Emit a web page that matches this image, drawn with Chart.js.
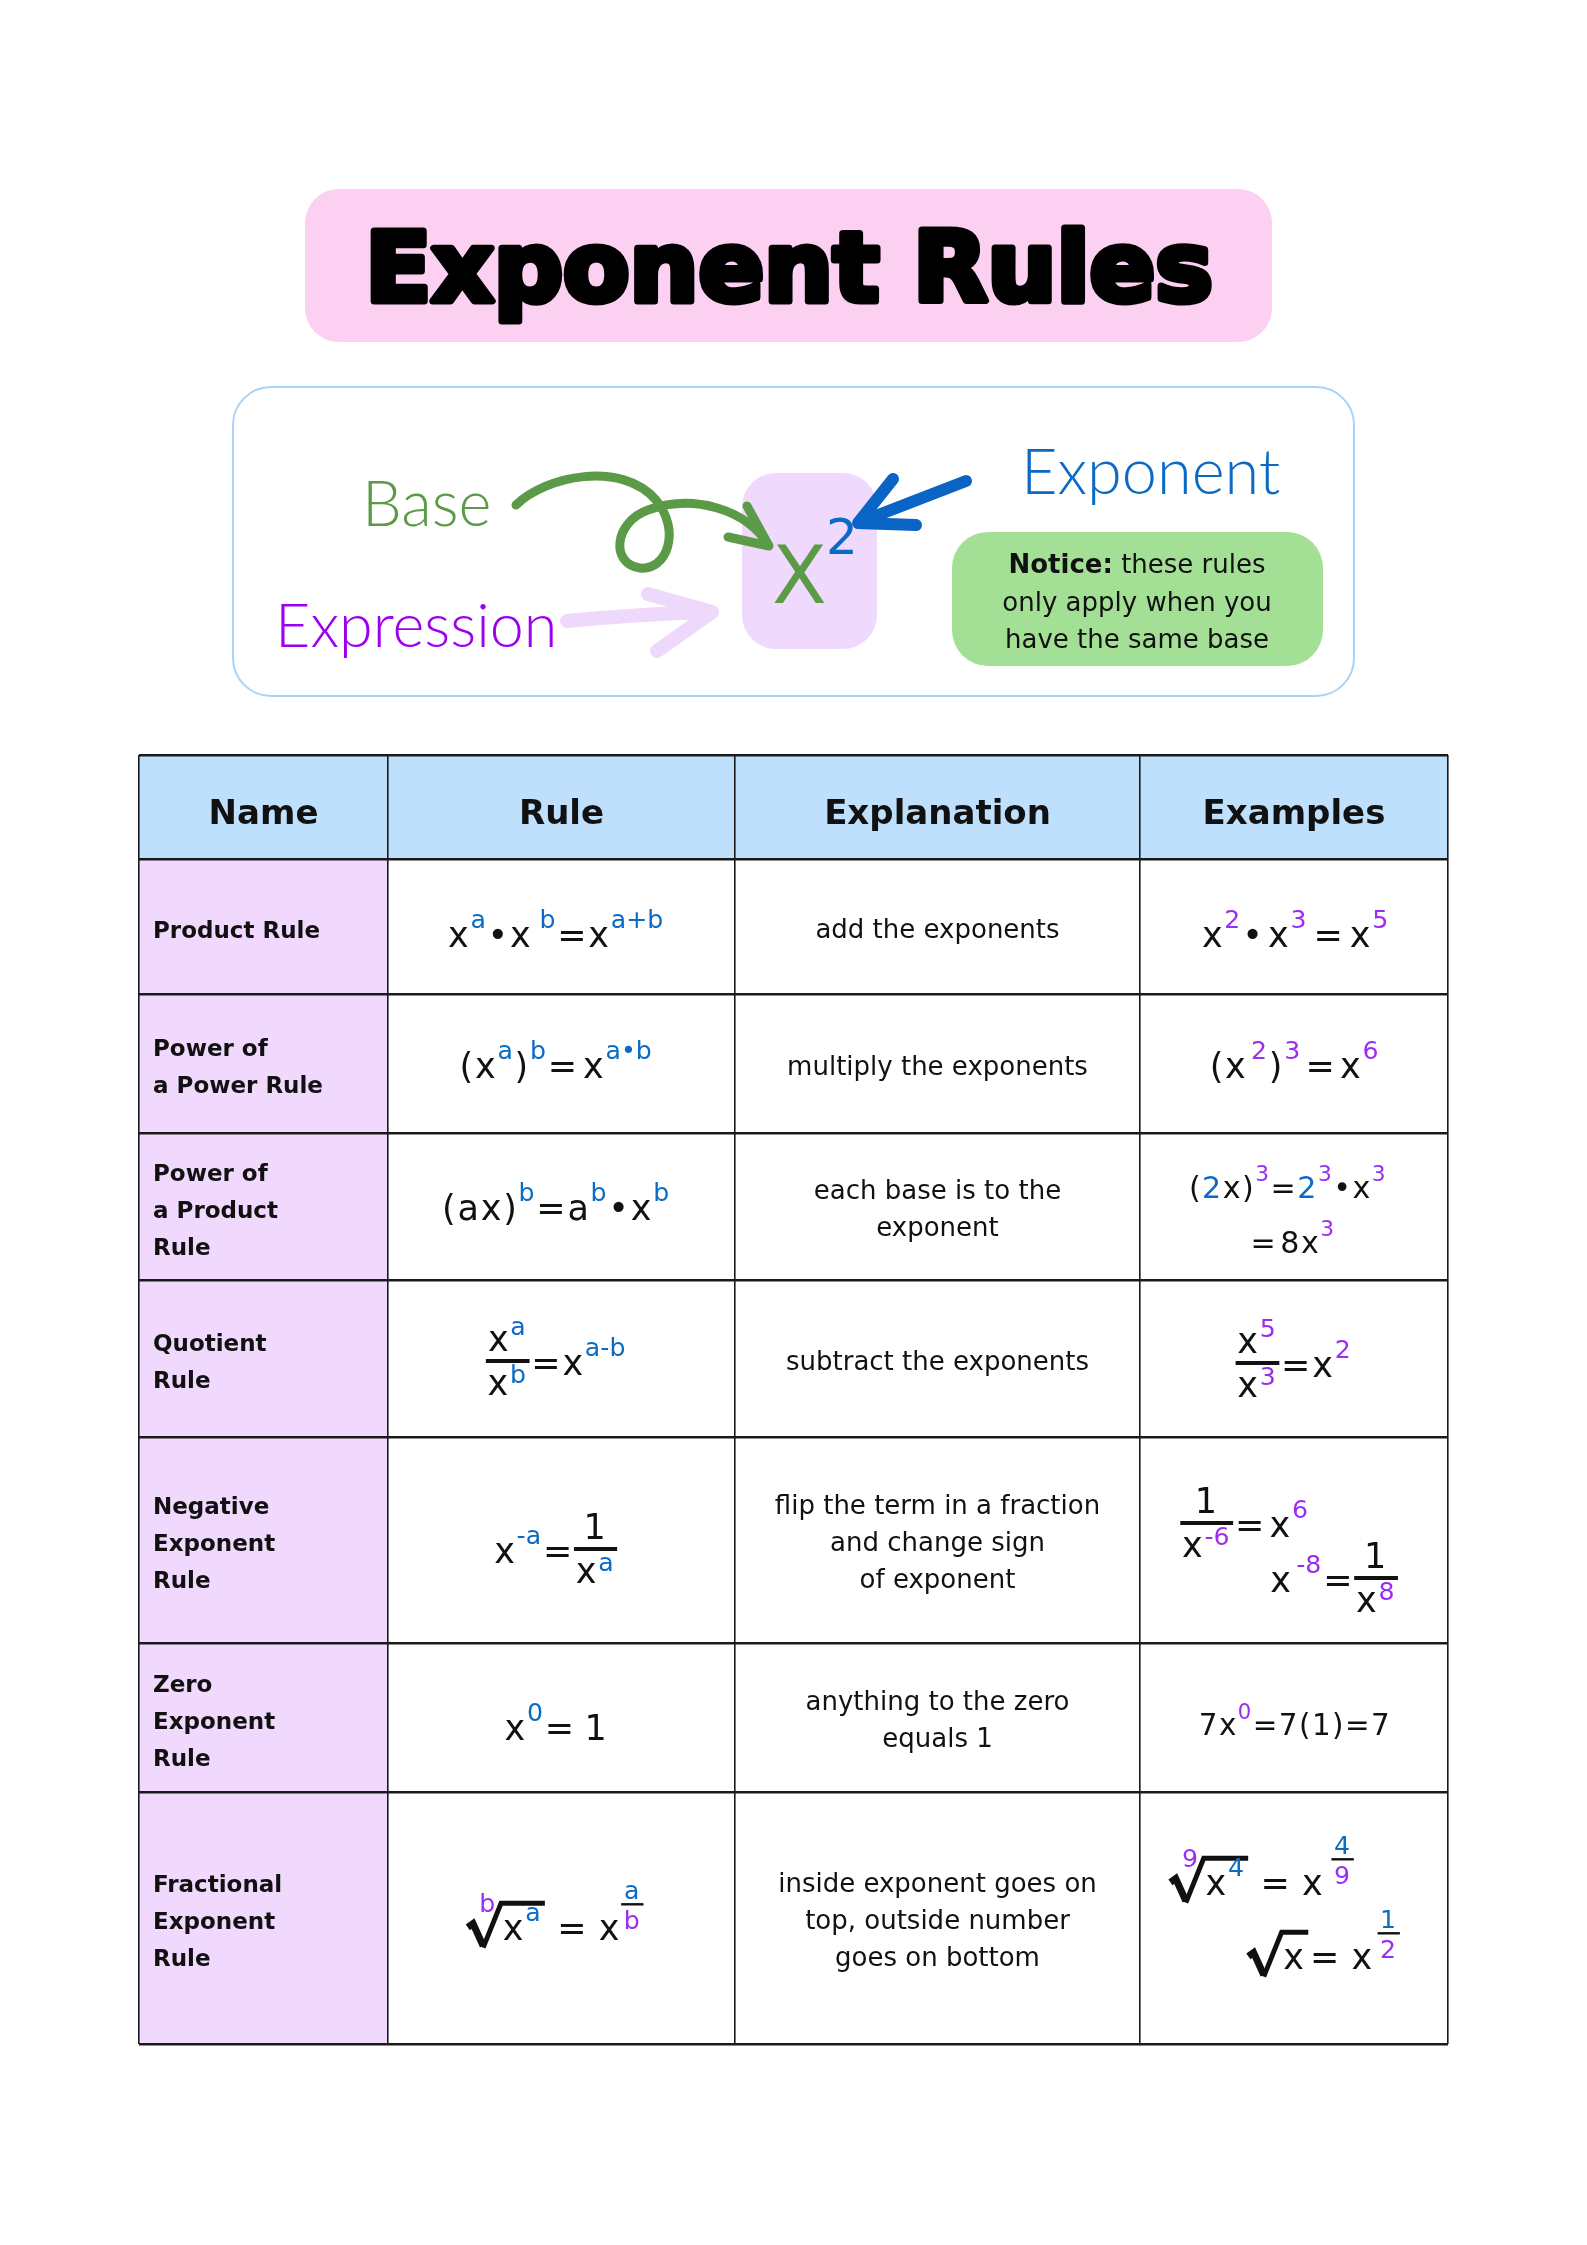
<!DOCTYPE html>
<html>
<head>
<meta charset="utf-8">
<script src="https://cdn.jsdelivr.net/npm/chart.js@4.4.1/dist/chart.umd.min.js"></script>
<style>
  html, body { margin: 0; padding: 0; background: #fff; }
  canvas { display: block; }
</style>
</head>
<body>
<canvas id="poster" width="1587" height="2245"></canvas>
<script>
const BLUE = '#0b6ac4';
const PURPLE = '#9b2cf2';
const INK = '#111111';

// little token helpers for the maths
const t = (s, c) => ({ k: 't', s, c });
const sup = (s, c) => ({ k: 'sup', s, c });
const gap = (w) => ({ k: 'gap', w });
const frac = (n, d) => ({ k: 'frac', n, d });
const sfrac = (n, d) => ({ k: 'sfrac', n, d });
const root = (i, b) => ({ k: 'root', i, b });

const headers = ['Name', 'Rule', 'Explanation', 'Examples'];

const names = [
  ['Product Rule'],
  ['Power of', 'a Power Rule'],
  ['Power of', 'a Product', 'Rule'],
  ['Quotient', 'Rule'],
  ['Negative', 'Exponent', 'Rule'],
  ['Zero', 'Exponent', 'Rule'],
  ['Fractional', 'Exponent', 'Rule']
];

const explanations = [
  ['add the exponents'],
  ['multiply the exponents'],
  ['each base is to the', 'exponent'],
  ['subtract the exponents'],
  ['flip the term in a fraction', 'and change sign', 'of exponent'],
  ['anything to the zero', 'equals 1'],
  ['inside exponent goes on', 'top, outside number', 'goes on bottom']
];

const rules = [
  [t('x'), sup('a', BLUE), t('•'), t('x'), gap(0.2), sup('b', BLUE), t('='), t('x'), sup('a+b', BLUE)],
  [t('('), t('x'), sup('a', BLUE), t(')'), sup('b', BLUE), t('='), gap(0.12), t('x'), sup('a•b', BLUE)],
  [t('('), t('a'), t('x'), t(')'), sup('b', BLUE), t('='), t('a'), sup('b', BLUE), t('•'), t('x'), sup('b', BLUE)],
  [frac([t('x'), sup('a', BLUE)], [t('x'), sup('b', BLUE)]), t('='), t('x'), sup('a-b', BLUE)],
  [t('x'), sup('-a', BLUE), t('='), frac([t('1')], [t('x'), sup('a', BLUE)])],
  [t('x'), sup('0', BLUE), t('='), gap(0.25), t('1')],
  [root([t('b', PURPLE)], [t('x'), sup('a', BLUE)]), gap(0.3), t('='), gap(0.3), t('x'), sfrac([t('a', BLUE)], [t('b', PURPLE)])]
];

const examples = [
  [[t('x'), sup('2', PURPLE), t('•'), gap(0.1), t('x'), sup('3', PURPLE), gap(0.15), t('='), gap(0.15), t('x'), sup('5', PURPLE)]],
  [[t('('), t('x'), gap(0.1), sup('2', PURPLE), t(')'), sup('3', PURPLE), gap(0.1), t('='), gap(0.1), t('x'), sup('6', PURPLE)]],
  [[t('('), t('2', BLUE), t('x'), t(')'), sup('3', PURPLE), t('='), t('2', BLUE), sup('3', PURPLE), t('•'), t('x'), sup('3', PURPLE)],
   [t('='), gap(0.1), t('8'), t('x'), sup('3', PURPLE)]],
  [[frac([t('x'), sup('5', PURPLE)], [t('x'), sup('3', PURPLE)]), t('='), t('x'), sup('2', PURPLE)]],
  [[frac([t('1')], [t('x'), sup('-6', PURPLE)]), t('='), gap(0.1), t('x'), sup('6', PURPLE)],
   [t('x'), gap(0.1), sup('-8', PURPLE), t('='), frac([t('1')], [t('x'), sup('8', PURPLE)])]],
  [[t('7'), t('x'), sup('0', PURPLE), t('='), t('7'), t('('), t('1'), t(')'), t('='), t('7')]],
  [[root([t('9', PURPLE)], [t('x'), sup('4', BLUE)]), gap(0.3), t('='), gap(0.3), t('x'), gap(0.2), sfrac([t('4', BLUE)], [t('9', PURPLE)])],
   [root([], [t('x')]), t('='), gap(0.3), t('x'), gap(0.1), sfrac([t('1', BLUE)], [t('2', PURPLE)])]]
];

// table geometry (scale units), and where things sit inside the cells
const colEdges = [0, 249, 596, 1001, 1309];
const rowEdges = [0, 104, 239, 378, 525, 682, 888, 1037, 1289];
const TABLE = { left: 139, top: 755, right: 1448, bottom: 2044 };
const ruleDy = [20.5, 14.5, 13.5, 16.5, 23, 22.5, 22];
// [dx, dy, size factor] for each example line
const exampleOffsets = [
  [[2, 20.5, 1]], [[1, 14.5, 1]], [[-6, -8.5, 0.86], [-1, 46.5, 0.86]], [[0, 18.5, 1]],
  [[-49, -3, 1], [41, 52, 1]], [[1, 17.5, 0.84]], [[-31, -23, 1], [31, 51, 1]]
];

const MF = '"DejaVu Sans", sans-serif';
const MATH = 35;
const SUP = 0.72;

function put(ctx, s, x, base, size, color, dry) {
  ctx.font = size + 'px ' + MF;
  if (!dry) { ctx.fillStyle = color || INK; ctx.fillText(s, x, base); }
  return ctx.measureText(s).width;
}

function run(ctx, toks, x, base, size, dry, lift = 0.55) {
  let w = 0;
  toks.forEach(tk => { w += piece(ctx, tk, x + w, base, size, dry, lift); });
  return w;
}

function piece(ctx, tk, x, base, size, dry, lift) {
  const ss = size * SUP, pad = 0.05 * size;
  if (tk.k === 't') return put(ctx, tk.s, x, base, size, tk.c, dry) + pad;
  if (tk.k === 'gap') return tk.w * size;
  if (tk.k === 'sup') return put(ctx, tk.s, x, base - lift * size, ss, tk.c, dry) + pad;
  if (tk.k === 'frac') {
    const nw = run(ctx, tk.n, 0, 0, size, true), dw = run(ctx, tk.d, 0, 0, size, true);
    const w = Math.max(nw, dw) + 0.1 * size, bar = base - 0.4 * size;
    if (!dry) {
      ctx.fillStyle = INK;
      ctx.fillRect(x, bar - 2, w, 4);
      run(ctx, tk.n, x + (w - nw) / 2, bar - 0.3 * size, size, false, 0.45);
      run(ctx, tk.d, x + (w - dw) / 2, bar + 0.97 * size, size, false, 0.33);
    }
    return w + pad;
  }
  if (tk.k === 'sfrac') {
    const nw = run(ctx, tk.n, 0, 0, ss, true), dw = run(ctx, tk.d, 0, 0, ss, true);
    const w = Math.max(nw, dw) + 0.2 * ss, bar = base - 1.02 * size;
    if (!dry) {
      ctx.fillStyle = INK;
      ctx.fillRect(x, bar - 1.2, w, 2.4);
      run(ctx, tk.n, x + (w - nw) / 2, bar - 0.14 * size, ss);
      run(ctx, tk.d, x + (w - dw) / 2, bar + 0.7 * size, ss);
    }
    return w + pad;
  }
  if (tk.k === 'root') {
    const bw = run(ctx, tk.b, 0, 0, size, true);
    const rw = 0.95 * size, top = base - 1.05 * size, end = x + rw + bw + 0.12 * size;
    if (!dry) {
      if (tk.i.length) {
        const iw = run(ctx, tk.i, 0, 0, ss, true);
        run(ctx, tk.i, x + 0.82 * size - iw, base - 0.8 * size, ss);
      }
      ctx.strokeStyle = INK;
      ctx.lineJoin = 'miter';
      ctx.lineCap = 'butt';
      ctx.beginPath();
      ctx.moveTo(x, base - 0.36 * size);
      ctx.lineTo(x + 0.15 * size, base - 0.47 * size);
      ctx.lineTo(x + 0.44 * size, base + 0.17 * size);
      ctx.lineWidth = 0.2 * size;
      ctx.stroke();
      ctx.beginPath();
      ctx.moveTo(x + 0.44 * size, base + 0.22 * size);
      ctx.lineTo(x + rw, top);
      ctx.lineTo(end, top);
      ctx.lineWidth = 0.14 * size;
      ctx.stroke();
      run(ctx, tk.b, x + rw + 0.05 * size, base, size);
    }
    return end - x + pad;
  }
  return 0;
}

function mathCentered(ctx, toks, cx, base, size) {
  const w = run(ctx, toks, 0, 0, size, true);
  run(ctx, toks, cx - w / 2, base, size);
}

function rr(ctx, x, y, w, h, r) {
  ctx.beginPath();
  ctx.moveTo(x + r, y);
  ctx.arcTo(x + w, y, x + w, y + h, r);
  ctx.arcTo(x + w, y + h, x, y + h, r);
  ctx.arcTo(x, y + h, x, y, r);
  ctx.arcTo(x, y, x + w, y, r);
  ctx.closePath();
}

function drawTop(ctx) {
  // title plate
  rr(ctx, 305, 189, 967, 153, 34);
  ctx.fillStyle = '#fcd0f1';
  ctx.fill();
  let fs = 100;
  ctx.font = 'bold ' + fs + 'px "DejaVu Sans", sans-serif';
  fs = fs * 848 / ctx.measureText('Exponent Rules').width;
  ctx.font = 'bold ' + fs.toFixed(1) + 'px "DejaVu Sans", sans-serif';
  ctx.fillStyle = '#000';
  ctx.strokeStyle = '#000';
  ctx.lineWidth = 7;
  ctx.lineJoin = 'round';
  ctx.textAlign = 'center';
  ctx.textBaseline = 'alphabetic';
  ctx.fillText('Exponent Rules', 789, 301);
  ctx.strokeText('Exponent Rules', 789, 301);

  // diagram frame
  rr(ctx, 233, 387, 1121, 309, 38);
  ctx.strokeStyle = '#a9d3f7';
  ctx.lineWidth = 2;
  ctx.stroke();

  rr(ctx, 742, 473, 135, 176, 34);
  ctx.fillStyle = '#efd9fc';
  ctx.fill();

  // pale purple arrow
  ctx.lineCap = 'round';
  ctx.lineJoin = 'round';
  ctx.strokeStyle = '#eed8fb';
  ctx.lineWidth = 14;
  ctx.beginPath();
  ctx.moveTo(567, 621);
  ctx.quadraticCurveTo(640, 614, 710, 612);
  ctx.moveTo(648, 594);
  ctx.lineTo(712, 612);
  ctx.lineTo(657, 651);
  ctx.stroke();

  // green looping arrow
  ctx.strokeStyle = '#5b9a46';
  ctx.lineWidth = 9;
  ctx.beginPath();
  ctx.moveTo(516, 505);
  ctx.bezierCurveTo(545, 476, 622, 460, 656, 500);
  ctx.bezierCurveTo(682, 532, 666, 571, 640, 568);
  ctx.bezierCurveTo(610, 564, 614, 522, 648, 510);
  ctx.bezierCurveTo(692, 494, 746, 508, 769, 546);
  ctx.moveTo(747, 506);
  ctx.lineTo(769, 546);
  ctx.lineTo(728, 537);
  ctx.stroke();

  // blue arrow
  ctx.strokeStyle = '#0a64c5';
  ctx.lineWidth = 12;
  ctx.beginPath();
  ctx.moveTo(966, 481);
  ctx.lineTo(860, 522);
  ctx.moveTo(893, 479);
  ctx.lineTo(858, 523);
  ctx.lineTo(916, 525);
  ctx.stroke();

  // x squared
  ctx.textAlign = 'left';
  ctx.font = '80px ' + MF;
  ctx.fillStyle = '#5b9a46';
  ctx.fillText('X', 772, 603);
  ctx.font = '50px ' + MF;
  ctx.fillStyle = BLUE;
  ctx.fillText('2', 826, 554);

  // labels
  ctx.font = '300 63px Lato, sans-serif';
  ctx.fillStyle = '#5b9a46';
  ctx.fillText('Base', 362, 526);
  ctx.fillStyle = '#9b00f0';
  ctx.font = '300 61px Lato, sans-serif';
  ctx.fillText('Expression', 275, 647);
  ctx.fillStyle = BLUE;
  ctx.font = '300 63px Lato, sans-serif';
  ctx.fillText('Exponent', 1021, 494);

  // notice box
  rr(ctx, 952, 532, 371, 134, 36);
  ctx.fillStyle = '#a3e095';
  ctx.fill();
  ctx.fillStyle = INK;
  ctx.font = 'bold 26px ' + MF;
  const bw = ctx.measureText('Notice:').width;
  ctx.font = '26px ' + MF;
  const rw = ctx.measureText(' these rules').width;
  const sx = 1137 - (bw + rw) / 2;
  ctx.font = 'bold 26px ' + MF;
  ctx.fillText('Notice:', sx, 573);
  ctx.font = '26px ' + MF;
  ctx.fillText(' these rules', sx + bw, 573);
  ctx.textAlign = 'center';
  ctx.fillText('only apply when you', 1137, 611);
  ctx.fillText('have the same base', 1137, 648);
}

const posterPlugin = {
  id: 'poster',
  beforeDraw(chart) {
    const ctx = chart.ctx;
    ctx.save();
    ctx.fillStyle = '#ffffff';
    ctx.fillRect(0, 0, chart.width, chart.height);
    drawTop(ctx);
    const xs = chart.scales.x, ys = chart.scales.y;
    const X = v => xs.getPixelForValue(v), Y = v => ys.getPixelForValue(v);
    const last = colEdges.length - 1, lastRow = rowEdges.length - 1;
    ctx.fillStyle = '#bee0fd';
    ctx.fillRect(X(colEdges[0]), Y(rowEdges[0]), X(colEdges[last]) - X(colEdges[0]), Y(rowEdges[1]) - Y(rowEdges[0]));
    ctx.fillStyle = '#f0d9fc';
    ctx.fillRect(X(colEdges[0]), Y(rowEdges[1]), X(colEdges[1]) - X(colEdges[0]), Y(rowEdges[lastRow]) - Y(rowEdges[1]));
    ctx.restore();
  },
  afterDraw(chart) {
    const ctx = chart.ctx;
    const xs = chart.scales.x, ys = chart.scales.y;
    const X = v => xs.getPixelForValue(v), Y = v => ys.getPixelForValue(v);
    const colMid = i => (X(colEdges[i]) + X(colEdges[i + 1])) / 2;
    const rowMid = i => (Y(rowEdges[i]) + Y(rowEdges[i + 1])) / 2;
    ctx.save();
    ctx.textBaseline = 'alphabetic';
    ctx.fillStyle = INK;

    ctx.font = 'bold 34px ' + MF;
    ctx.textAlign = 'center';
    headers.forEach((h, i) => ctx.fillText(h, colMid(i), rowMid(0) + 17));

    const lines = (arr, x, cy) => arr.forEach((ln, i) =>
      ctx.fillText(ln, x, cy + 11 + (i - (arr.length - 1) / 2) * 37));

    names.forEach((arr, r) => {
      ctx.font = 'bold 23px ' + MF;
      ctx.textAlign = 'left';
      ctx.fillStyle = INK;
      lines(arr, X(colEdges[0]) + 14, rowMid(r + 1));
    });
    explanations.forEach((arr, r) => {
      ctx.font = '26px ' + MF;
      ctx.textAlign = 'center';
      ctx.fillStyle = INK;
      lines(arr, colMid(2), rowMid(r + 1));
    });

    ctx.textAlign = 'left';
    rules.forEach((toks, r) => mathCentered(ctx, toks, colMid(1) - 5, rowMid(r + 1) + ruleDy[r], MATH));
    examples.forEach((set, r) => set.forEach((toks, j) => {
      const [dx, dy, k] = exampleOffsets[r][j];
      mathCentered(ctx, toks, colMid(3) + dx, rowMid(r + 1) + dy, MATH * k);
    }));
    ctx.restore();
  }
};

const edgeTicks = edges => axis => { axis.ticks = edges.map(v => ({ value: v })); };

new Chart(document.getElementById('poster'), {
  type: 'scatter',
  data: { datasets: [] },
  options: {
    responsive: false,
    animation: false,
    devicePixelRatio: 1,
    events: [],
    layout: {
      autoPadding: false,
      padding: { left: TABLE.left, top: TABLE.top, right: 1587 - TABLE.right, bottom: 2245 - TABLE.bottom }
    },
    plugins: { legend: { display: false }, tooltip: { enabled: false } },
    scales: {
      x: {
        type: 'linear', min: 0, max: colEdges[colEdges.length - 1],
        afterBuildTicks: edgeTicks(colEdges),
        ticks: { display: false },
        grid: { color: '#1a1a1a', lineWidth: 1.6, drawTicks: false },
        border: { display: false }
      },
      y: {
        type: 'linear', reverse: true, min: 0, max: rowEdges[rowEdges.length - 1],
        afterBuildTicks: edgeTicks(rowEdges),
        ticks: { display: false },
        grid: { color: '#1a1a1a', lineWidth: 2.6, drawTicks: false },
        border: { display: false }
      }
    }
  },
  plugins: [posterPlugin]
});
</script>
</body>
</html>
